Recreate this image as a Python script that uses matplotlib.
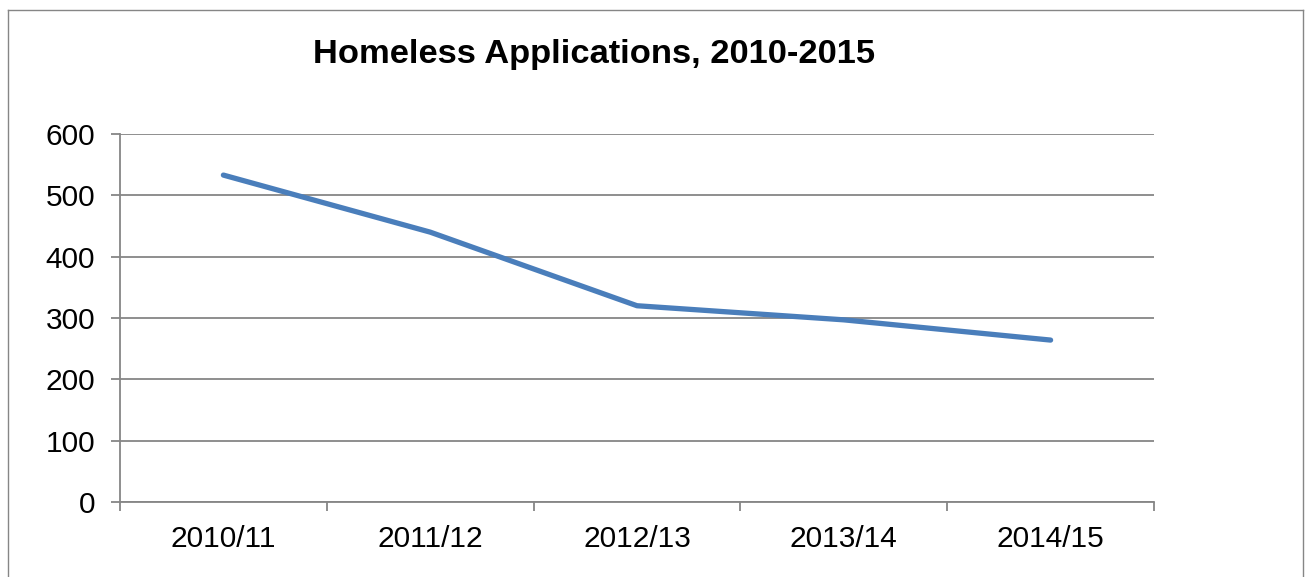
import matplotlib
matplotlib.use("Agg")
import matplotlib.pyplot as plt
from matplotlib.lines import Line2D
import numpy as np

years = ["2010/11", "2011/12", "2012/13", "2013/14", "2014/15"]
applications = [533, 440, 320, 297, 264]
y_ticks = [0, 100, 200, 300, 400, 500, 600]

W, H, DPI = 1310, 577, 100
fig = plt.figure(figsize=(W / DPI, H / DPI), dpi=DPI)
plt.rcParams["font.family"] = ["Liberation Sans", "DejaVu Sans"]

grey = "#868686"

# chart frame (open at the bottom edge of the canvas)
for xs, ys in [((8, 8), (0, H - 10)), ((8, 1303), (H - 10, H - 10)), ((1303, 1303), (H - 10, 0))]:
    fig.add_artist(Line2D([x / W for x in xs], [y / H for y in ys],
                          color=grey, lw=1.0, transform=fig.transFigure))

left, right, top, bottom = 120, 1154, 134, 502
ax = fig.add_axes([left / W, (H - bottom) / H, (right - left) / W, (bottom - top) / H])

x = np.arange(len(years))
ax.plot(x, applications, color="#4A7EBB", lw=3.8, solid_capstyle="round",
        solid_joinstyle="round", zorder=3)

ax.set_xlim(-0.5, len(years) - 0.5)
ax.set_ylim(0, 600)
ax.set_yticks(y_ticks)
ax.set_yticklabels([str(v) for v in y_ticks], fontsize=21.5)
ax.yaxis.grid(True, color=grey, lw=1.3)
ax.set_axisbelow(True)

# category boundaries carry the tick marks, labels sit between them
ax.set_xticks(np.arange(len(years) + 1) - 0.5)
ax.set_xticklabels([])
ax.set_xticks(x, minor=True)
ax.set_xticklabels(years, minor=True, fontsize=21.5)
ax.tick_params(axis="x", which="major", length=6.5, width=1.3, color=grey, direction="out")
ax.tick_params(axis="x", which="minor", length=0, pad=16.5)
ax.tick_params(axis="y", length=6.5, width=1.3, color=grey, pad=11.5)

for s in ("top", "right"):
    ax.spines[s].set_visible(False)
for s in ("left", "bottom"):
    ax.spines[s].set_color(grey)
    ax.spines[s].set_linewidth(1.3)

fig.text(594 / W, 1 - 54 / H, "Homeless Applications, 2010-2015", ha="center", va="center",
         fontsize=24.8, fontweight="bold")

fig.savefig("out.png", dpi=DPI, facecolor="white")
